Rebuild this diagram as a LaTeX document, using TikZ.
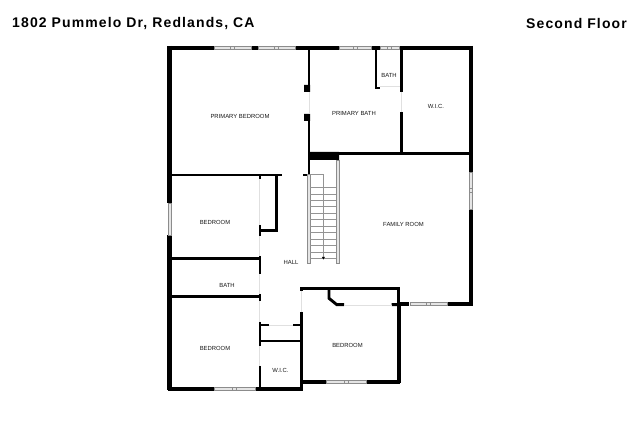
\documentclass[tikz,border=0pt]{standalone}
\usepackage{fontspec}
\setmainfont{Liberation Sans}
\begin{document}
\begin{tikzpicture}[x=1pt, y=-1pt, line join=miter, >=stealth,
	wall/.style={line width=2.9pt},
	wallb/.style={line width=4.1pt},
	win/.style={draw=black!45, fill=black!10, line width=0.5pt},
	gap/.style={draw=black!12, line width=0.5pt},
	stair/.style={draw=black!42, line width=0.45pt},
	room/.style={font=\fontsize{5.9}{7}\selectfont, text=black!90, inner sep=0pt},
	title/.style={font=\fontsize{14}{16}\selectfont\bfseries\addfontfeatures{LetterSpace=8}, inner sep=0pt}]
	\useasboundingbox[fill=white] (0,0) rectangle (640,427);
	\node[title, anchor=west] (address) at (12,23.5) {1802 Pummelo Dr, Redlands, CA};
	\node[title, anchor=east] (floor) at (627,23.5) {Second Floor};
	\draw[wallb] (214,47.7)--(168,47.7) (169.5,46)--(169.5,203) (169.5,235)--(169.5,390.5) (168,388.7)--(214,388.7);
	\draw[wallb] (252,47.7)--(257.5,47.7) (295,47.7)--(339,47.7) (371,47.7)--(380,47.7) (399,47.7)--(472.6,47.7);
	\draw[wallb] (470.7,46)--(470.7,172) (470.7,209)--(470.7,305.6) (472.6,303.7)--(448,303.7) (409,303.7)--(399,303.7);
	\draw[wallb] (255,388.7)--(303,388.7) (303,382)--(326,382) (366,382)--(400.2,382) (398.7,383)--(398.7,303);
	\draw[wall] (309,47)--(309,85) (309,121)--(309,175) (303,175)--(310,175);
	\draw[wall] (309,153.5)--(470,153.5);
	\draw[wall] (376,47)--(376,88) (375,88)--(380,88);
	\draw[wall] (401.7,47)--(401.7,90) (401.7,112)--(401.7,153);
	\draw[wall] (170,175)--(282,175) (260,175)--(260,179) (276.8,175)--(276.8,231.9) (277.9,230.7)--(259,230.7);
	\draw[wall] (260,225)--(260,236) (170,258.7)--(261,258.7) (260,256)--(260,274);
	\draw[wall] (170,296.7)--(261,296.7) (260,294)--(260,301);
	\draw[wall] (260,322)--(260,346) (260,325)--(269,325) (293,325)--(302,325) (260,341)--(302,341);
	\draw[wall] (260,366)--(260,388) (301.7,312)--(301.7,390);
	\draw[wall] (300.4,288.3)--(399.9,288.3) (301.4,288)--(301.4,291) (398.7,288)--(398.7,304);
	\draw[wall] (329,288)--(329,298.3)--(336.7,304.6)--(344,304.6) (391.7,304.6)--(400,304.6);
	\fill (304,85) rectangle (310,92) (304,114) rectangle (310,121) (310,152) rectangle (339,160);
	\fill (400.2,87) rectangle (402.8,92);
	\foreach \a/\b/\c/\d in {214/46/251/49.5, 258/46/295/49.5, 339/46/371/49.5, 380/46/399/49.5, 214/387/255/390.5, 326/380.3/366/383.7, 410/302/447/305.5, 168/203/171.5/235, 469/172/472.7/209} \draw[win] (\a,\b) rectangle (\c,\d);
	\foreach \a/\b in {232/47.7, 276/47.7, 355/47.7, 389/47.7, 234/388.7, 346/382, 428/303.7} \draw[win] (\a-2,\b-1.7) rectangle (\a+2,\b+1.7);
	\draw[win] (469,188.5) rectangle (472.7,192.5);
	\draw[win] (307.7,174) rectangle (310.3,263);
	\draw[win] (336.2,160) rectangle (339,263);
	\foreach \t in {0,...,11} \draw[stair] (310.3,187.3+\t*6.45)--(336.2,187.3+\t*6.45);
	\draw[stair] (310.3,174)--(323.4,174)--(323.4,258);
	\fill[black] (321.9,257) -- (324.9,257) -- (323.4,259.6) -- cycle;
	\draw[gap] (259.5,179)--(259.5,225) (259.5,236)--(259.5,256) (259.5,274)--(259.5,294) (259.5,301)--(259.5,322) (259.5,346)--(259.5,366);
	\draw[gap] (269,325)--(293,325) (301,291)--(301,312) (380,86.5)--(400,86.5) (401.7,92)--(401.7,112) (344,305)--(391.7,305) (309.5,92)--(309.5,114);
	\node[room] (primarybed) at (240,116.7) {PRIMARY BEDROOM};
	\node[room] (primarybath) at (354,113.5) {PRIMARY BATH};
	\node[room] (bath1) at (389,75.5) {BATH};
	\node[room] (wic1) at (436,106) {W.I.C.};
	\node[room] (family) at (403.5,224) {FAMILY ROOM};
	\node[room] (bed1) at (215,222) {BEDROOM};
	\node[room] (hall) at (291,262) {HALL};
	\node[room] (bath2) at (227,285.5) {BATH};
	\node[room] (bed2) at (215,348) {BEDROOM};
	\node[room] (wic2) at (280.5,370.3) {W.I.C.};
	\node[room] (bed3) at (347.5,345.5) {BEDROOM};
\end{tikzpicture}
\end{document}
